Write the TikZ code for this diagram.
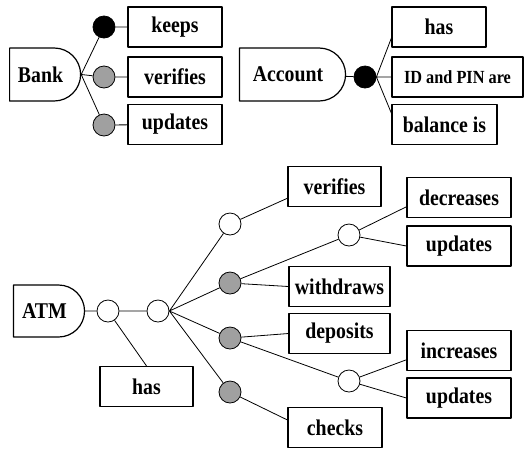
\documentclass[tikz,border=0pt]{standalone}
\usepackage{fontspec}
\setmainfont{Liberation Serif}[FakeStretch=0.88]
\usetikzlibrary{shapes.misc}
\definecolor{dotgray}{RGB}{160,160,160}
\begin{document}
\begin{tikzpicture}[x=1pt, y=-1pt, line join=round, font=\fontsize{22.5}{24}\selectfont\bfseries,
    con/.style={draw, line width=0.8pt},
    relbox/.style={draw, line width=1.2pt, minimum width=#1, minimum height=40, inner sep=0pt},
    entity/.style={draw, line width=1.2pt, rounded rectangle, rounded rectangle left arc=none, minimum height=53, inner sep=0pt,
        execute at begin node={\hspace*{-8pt}}},
    junc/.style={circle, draw, line width=0.8pt, minimum size=22, inner sep=0pt, fill=#1},
    junc/.default=white]
    \useasboundingbox (0,0) rectangle (524,451);
    % Bank
    \node[entity, minimum width=71] (bank) at (44.5,74.5) {Bank};
    \node[junc=black] (bk1) at (104,27) {}; \node[junc=dotgray] (bk2) at (104,77) {}; \node[junc=dotgray] (bk3) at (104,125) {};
    \node[relbox=94] (keeps) at (175,27) {keeps};
    \node[relbox=94] (bverif) at (175,77) {verifies};
    \node[relbox=94] (bupd) at (175,124.5) {updates};
    \draw[con] (bank.east) -- (bk1) (bank.east) -- (bk2) (bank.east) -- (bk3);
    \draw[con] (bk1) -- (keeps) (bk2) -- (bverif) (bk3) -- (bupd);
    % Account
    \node[entity, minimum width=106] (acct) at (292,74.5) {Account};
    \node[junc=black] (ac) at (365,77) {};
    \node[relbox=94] (ahas) at (439,27) {has};
    \node[relbox=131, font=\fontsize{18.5}{20}\selectfont\bfseries] (aid) at (457.5,77) {ID and PIN are};
    \node[relbox=105] (abal) at (444.5,124.5) {balance is};
    \draw[con] (acct) -- (ac) (ac.east) -- (ahas.193) (ac) -- (aid) (ac.east) -- (abal.168);
    % ATM
    \node[entity, minimum width=71, minimum height=52] (atm) at (48.5,311) {ATM};
    \node[junc] (c1) at (108,311) {}; \node[junc] (c2) at (158,311) {};
    \node[relbox=93] (thas) at (146.5,386.5) {has};
    \node[junc] (w1) at (230,224) {};
    \node[junc=dotgray] (g1) at (230,283) {}; \node[junc=dotgray] (g2) at (230,338) {}; \node[junc=dotgray] (g3) at (230,392) {};
    \node[relbox=93] (tverif) at (334.5,186.5) {verifies};
    \node[relbox=101] (withd) at (339.5,286.5) {withdraws};
    \node[relbox=101] (depo) at (339.5,333.5) {deposits};
    \node[relbox=94] (checks) at (335,427.5) {checks};
    \node[junc] (wc1) at (349,235) {}; \node[junc] (wc2) at (349,381) {};
    \node[relbox=104] (decr) at (459,197.5) {decreases};
    \node[relbox=104] (upd1) at (459,246) {updates};
    \node[relbox=104] (incr) at (459,350.5) {increases};
    \node[relbox=104] (upd2) at (459,398) {updates};
    \draw[con] (atm) -- (c1) -- (c2) (c1) -- (thas.north);
    \draw[con] (c2.east) -- (w1) (c2.east) -- (g1) (c2.east) -- (g2) (c2.east) -- (g3);
    \draw[con] (w1) -- (tverif.194) (g1) -- (withd.west) (g1) -- (wc1) (g2) -- (depo.west) (g2) -- (wc2) (g3) -- (checks.171);
    \draw[con] (wc1) -- (decr.190) (wc1) -- (upd1.west) (wc2) -- (incr.190) (wc2) -- (upd2.west);
\end{tikzpicture}
\end{document}
